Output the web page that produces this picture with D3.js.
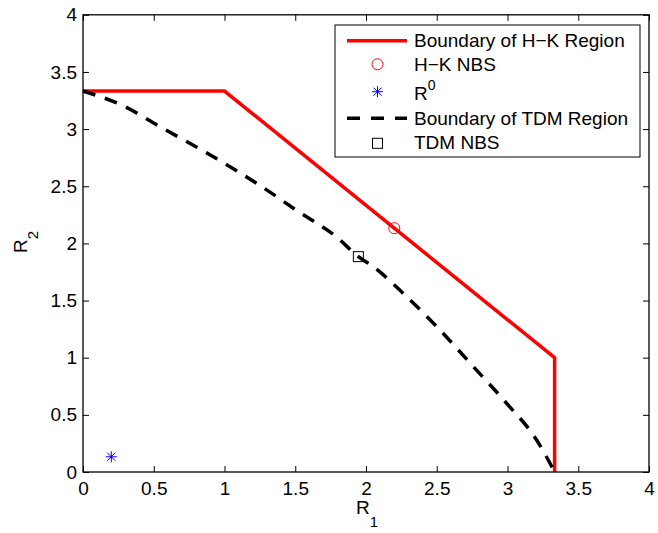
<!DOCTYPE html>
<html><head><meta charset="utf-8">
<script src="https://cdn.jsdelivr.net/npm/d3@7"></script>
<style>
body{margin:0;background:#fff}
text{font-family:Arial,"Liberation Sans",Helvetica,sans-serif;fill:#000}
</style>
</head><body>
<svg id="c" width="658" height="533"></svg>
<script>
// ---- data ----
const xTicks = [0, 0.5, 1, 1.5, 2, 2.5, 3, 3.5, 4];
const yTicks = [0, 0.5, 1, 1.5, 2, 2.5, 3, 3.5, 4];
const xTickLabels = ["0", "0.5", "1", "1.5", "2", "2.5", "3", "3.5", "4"];
const yTickLabels = ["0", "0.5", "1", "1.5", "2", "2.5", "3", "3.5", "4"];
const hkR1 = [0, 1, 3.333, 3.333];
const hkR2 = [3.333, 3.333, 1, 0];
const tdmR1 = [0, 0.28, 0.544, 0.921, 1.247, 1.52, 1.796, 1.946, 2.052, 2.287, 2.523, 2.759, 2.994, 3.206, 3.333];
const tdmR2 = [3.333, 3.206, 3.021, 2.759, 2.51, 2.28, 2.052, 1.884, 1.796, 1.534, 1.242, 0.921, 0.601, 0.28, 0];
const hkNbsR1 = [2.2], hkNbsR2 = [2.133];
const r0R1 = [0.2], r0R2 = [0.133];
const tdmNbsR1 = [1.946], tdmNbsR2 = [1.884];
const legendLabels = ["Boundary of H\u2212K Region", "H\u2212K NBS", "R", "Boundary of TDM Region", "TDM NBS"];

// ---- layout ----
const L = 83, R = 649, T = 14.8, B = 472;
const x = d3.scaleLinear().domain([0, 4]).range([L, R]);
const y = d3.scaleLinear().domain([0, 4]).range([B, T]);
const svg = d3.select("#c");
const FS = 19;

// axes (ticks inward)
const gB = svg.append("g").attr("transform", `translate(0,${B})`)
  .call(d3.axisBottom(x).tickValues(xTicks).tickFormat((d, i) => xTickLabels[i]).tickSizeInner(-6).tickSizeOuter(0).tickPadding(10));
const gL = svg.append("g").attr("transform", `translate(${L},0)`)
  .call(d3.axisLeft(y).tickValues(yTicks).tickFormat((d, i) => yTickLabels[i]).tickSizeInner(-6).tickSizeOuter(0).tickPadding(6));
const gT = svg.append("g").attr("transform", `translate(0,${T})`)
  .call(d3.axisTop(x).tickValues(xTicks).tickFormat("").tickSizeInner(-6).tickSizeOuter(0));
const gR = svg.append("g").attr("transform", `translate(${R},0)`)
  .call(d3.axisRight(y).tickValues(yTicks).tickFormat("").tickSizeInner(-6).tickSizeOuter(0));
[gB, gL, gT, gR].forEach(g => {
  g.select(".domain").remove();
  g.selectAll("line").attr("stroke", "#000").attr("stroke-width", 1);
  g.selectAll("text").attr("font-size", FS).attr("font-family", "Arial,'Liberation Sans',sans-serif").attr("fill", "#000");
});

// data lines
const hk = hkR1.map((v, i) => [v, hkR2[i]]);
const tdm = tdmR1.map((v, i) => [v, tdmR2[i]]);
svg.append("path").datum(hk)
  .attr("d", d3.line().x(d => x(d[0])).y(d => y(d[1])))
  .attr("fill", "none").attr("stroke", "#ff0000").attr("stroke-width", 3.5).attr("stroke-linejoin", "miter");
svg.append("path").datum(tdm)
  .attr("d", d3.line().x(d => x(d[0])).y(d => y(d[1])).curve(d3.curveMonotoneX))
  .attr("fill", "none").attr("stroke", "#000").attr("stroke-width", 3.5).attr("stroke-dasharray", "13,10");

// markers
function circleM(g, cx, cy) {
  g.append("circle").attr("cx", cx).attr("cy", cy).attr("r", 5.5)
    .attr("fill", "none").attr("stroke", "#ff0000").attr("stroke-width", 1);
}
function starM(g, cx, cy) {
  const s = 5.5, d = 4;
  const p = `M${cx - s},${cy}L${cx + s},${cy}M${cx},${cy - s}L${cx},${cy + s}` +
            `M${cx - d},${cy - d}L${cx + d},${cy + d}M${cx - d},${cy + d}L${cx + d},${cy - d}`;
  g.append("path").attr("d", p).attr("stroke", "#0000ff").attr("stroke-width", 1).attr("fill", "none");
}
function squareM(g, cx, cy) {
  g.append("rect").attr("x", cx - 5).attr("y", cy - 5).attr("width", 10).attr("height", 10)
    .attr("fill", "none").attr("stroke", "#000").attr("stroke-width", 1);
}
hkNbsR1.forEach((v, i) => circleM(svg, x(v), y(hkNbsR2[i])));
r0R1.forEach((v, i) => starM(svg, x(v), y(r0R2[i])));
tdmNbsR1.forEach((v, i) => squareM(svg, x(v), y(tdmNbsR2[i])));

// frame
svg.append("rect").attr("x", L).attr("y", T).attr("width", R - L).attr("height", B - T)
  .attr("fill", "none").attr("stroke", "#000").attr("stroke-width", 1.3);

// axis labels
const xl = svg.append("text").attr("x", 356).attr("y", 514).attr("font-size", FS);
xl.append("tspan").text("R");
xl.append("tspan").attr("font-size", 15).attr("dy", 13).text("1");
const yl = svg.append("text").attr("transform", "translate(27,253) rotate(-90)").attr("font-size", FS);
yl.append("tspan").text("R");
yl.append("tspan").attr("font-size", 15).attr("dy", 11).text("2");

// legend
const lg = svg.append("g");
lg.append("rect").attr("x", 335).attr("y", 25).attr("width", 305).attr("height", 132)
  .attr("fill", "#fff").attr("stroke", "#000").attr("stroke-width", 1);
const rowY = [40.7, 64.3, 91.7, 118.3, 143.3];
const baseY = [46.7, 71, 99.5, 124.5, 149];
const sx0 = 347, sx1 = 407, mx = 377.5, tx = 414;
lg.append("line").attr("x1", sx0).attr("x2", sx1).attr("y1", rowY[0]).attr("y2", rowY[0])
  .attr("stroke", "#ff0000").attr("stroke-width", 3.5);
circleM(lg, mx, rowY[1]);
starM(lg, mx, rowY[2]);
lg.append("line").attr("x1", sx0).attr("x2", sx1).attr("y1", rowY[3]).attr("y2", rowY[3])
  .attr("stroke", "#000").attr("stroke-width", 3.5).attr("stroke-dasharray", "13,11");
squareM(lg, mx, rowY[4]);
legendLabels.forEach((t, i) => {
  const tt = lg.append("text").attr("x", tx).attr("y", baseY[i]).attr("font-size", FS);
  tt.append("tspan").text(t);
  if (i === 2) tt.append("tspan").attr("font-size", 14).attr("dy", -10).text("0");
});
</script>
</body></html>
